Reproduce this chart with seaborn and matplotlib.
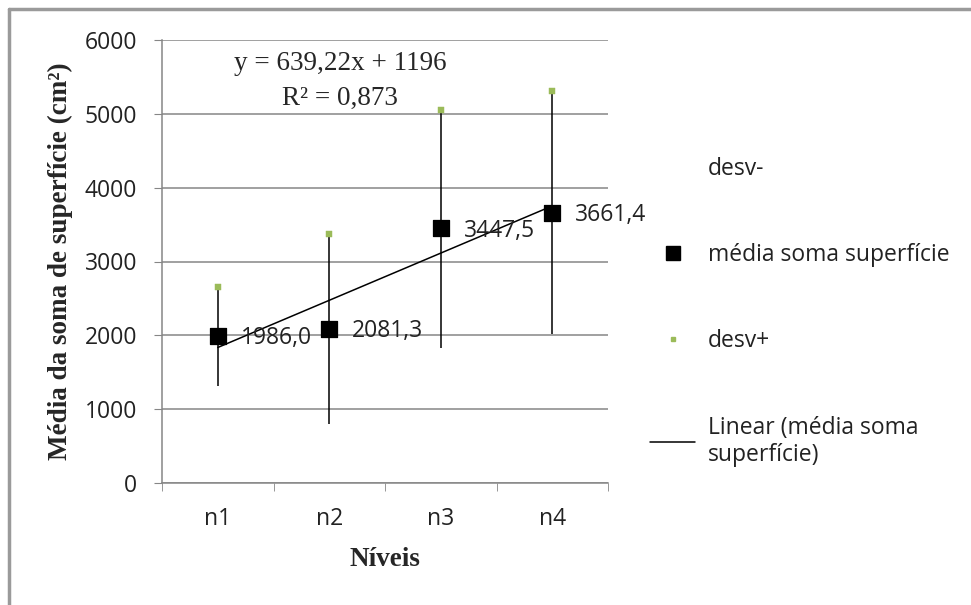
import numpy as np
import pandas as pd
import matplotlib
matplotlib.use("Agg")
import matplotlib.pyplot as plt
from matplotlib.lines import Line2D
import seaborn as sns

# data
niveis = ["n1", "n2", "n3", "n4"]
media = [1986.0, 2081.3, 3447.5, 3661.4]
desv_menos = [1314, 794, 1825, 2015]   # lower end of bars
desv_mais = [2657, 3378, 5054, 5303]   # upper end of bars
rotulos = ["1986,0", "2081,3", "3447,5", "3661,4"]

df = pd.DataFrame({"nivel": niveis, "media": media,
                   "baixo": desv_menos, "alto": desv_mais})
df["pos"] = np.arange(len(df))

sns.set_style("white")
sans = ["Open Sans", "DejaVu Sans"]
serif = ["Liberation Serif", "DejaVu Serif"]
plt.rcParams["font.family"] = sans

grid_col = "#868686"
verde = "#9BBB59"
txt_col = "#222222"
fs = 16.5

fig = plt.figure(figsize=(9.71, 6.05), dpi=100)
ax = fig.add_axes([162/971, 1-483/605, (608-162)/971, (483-40)/605])

# vertical bars between desv- and desv+
ax.vlines(df["pos"], df["baixo"], df["alto"], color="black", lw=1.1, zorder=3)

# trend line
sns.regplot(data=df, x="pos", y="media", ax=ax, scatter=False, ci=None,
            truncate=True, line_kws=dict(color="black", lw=1.1, zorder=4))

# means
sns.scatterplot(data=df, x="pos", y="media", ax=ax, marker="s", s=130,
                color="black", edgecolor="black", zorder=5, legend=False)
# desv+ marks
sns.scatterplot(data=df, x="pos", y="alto", ax=ax, marker="s", s=16,
                color=verde, edgecolor=verde, zorder=6, legend=False)

for p, m, t in zip(df["pos"], df["media"], rotulos):
    ax.annotate(t, (p, m), xytext=(16.5, -1.5), textcoords="offset points",
                ha="left", va="center", fontsize=fs, color=txt_col,
                family=sans, zorder=7)

ax.set_xlim(-0.5, 3.5)
ax.set_ylim(0, 6000)
ax.set_yticks(range(0, 6001, 1000))
ax.set_yticklabels([str(v) for v in range(0, 6001, 1000)], fontsize=fs,
                   color=txt_col)
ax.set_xticks(df["pos"])
ax.set_xticklabels(niveis, fontsize=fs, color=txt_col)
ax.tick_params(axis="x", length=0, pad=17)
ax.set_xticks(np.arange(-0.5, 4, 1), minor=True)
ax.tick_params(axis="x", which="minor", length=6, direction="out",
               color=grid_col, bottom=True)
ax.tick_params(axis="y", length=6, direction="out", color=grid_col,
               left=True, pad=12)
ax.yaxis.grid(True, color=grid_col, lw=1.1)
ax.set_axisbelow(True)
for s in ["top", "right"]:
    ax.spines[s].set_visible(False)
for s in ["left", "bottom"]:
    ax.spines[s].set_color(grid_col)
    ax.spines[s].set_linewidth(1.1)

ax.set_xlabel("Níveis", fontsize=19.5, fontweight="bold", family=serif,
              labelpad=12)
ax.set_ylabel("Média da soma de superfície (cm²)", fontsize=19.5,
              fontweight="bold", family=serif, labelpad=8)

ax.text(0.399, 0.948, "y = 639,22x + 1196", transform=ax.transAxes,
        ha="center", va="center", fontsize=19.5, family=serif)
ax.text(0.399, 0.869, "R² = 0,873", transform=ax.transAxes,
        ha="center", va="center", fontsize=19.5, family=serif)

# legend
handles = [
    Line2D([], [], linestyle="none"),
    Line2D([], [], marker="s", color="black", linestyle="none", markersize=10),
    Line2D([], [], marker="s", color=verde, linestyle="none", markersize=3),
    Line2D([], [], color="black", lw=1.1),
]
labels = ["desv-", "média soma superfície", "desv+",
          "Linear (média soma\nsuperfície)"]
fig.legend(handles, labels, loc="upper left", bbox_to_anchor=(629/971, 1-136/605),
           frameon=False, fontsize=fs, labelspacing=2.72, handlelength=2.0,
           handletextpad=0.55, labelcolor=txt_col)

# chart border (top and left visible)
fig.add_artist(Line2D([9/971, 9/971], [0, 1-9/605], color="#9a9a9a", lw=2.5,
                      transform=fig.transFigure))
fig.add_artist(Line2D([9/971, 1], [1-9/605, 1-9/605], color="#9a9a9a", lw=2.5,
                      transform=fig.transFigure))

fig.savefig("out.png", dpi=100)
